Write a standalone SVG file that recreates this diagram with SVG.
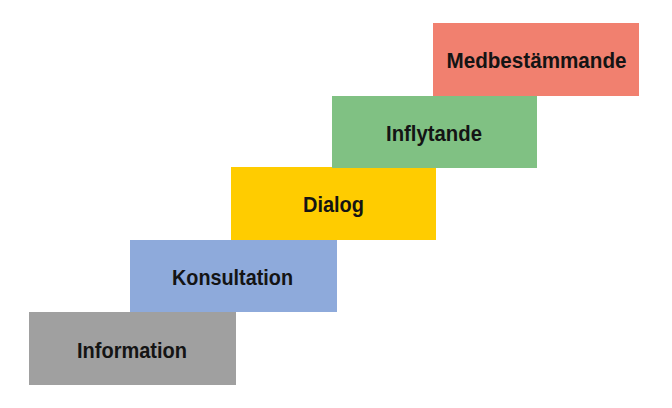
<svg xmlns="http://www.w3.org/2000/svg" width="672" height="408" viewBox="0 0 672 408">
<style>
.lbl{font-family:"Liberation Sans",Arial,sans-serif;font-weight:bold;font-size:22px;fill:#141414;text-anchor:middle}
</style>
<rect width="672" height="408" fill="#ffffff"/>
<g id="information"><rect x="29" y="312" width="207" height="73" fill="#a0a0a0"/><text class="lbl" x="132" y="357.5" textLength="110" lengthAdjust="spacingAndGlyphs">Information</text></g>
<g id="konsultation"><rect x="130" y="240" width="207" height="72" fill="#8eaadb"/><text class="lbl" x="232.5" y="285" textLength="121" lengthAdjust="spacingAndGlyphs">Konsultation</text></g>
<g id="dialog"><rect x="231" y="167" width="205" height="73" fill="#ffcc00"/><text class="lbl" x="333.5" y="212" textLength="61" lengthAdjust="spacingAndGlyphs">Dialog</text></g>
<g id="inflytande"><rect x="332" y="96" width="205" height="72" fill="#80c183"/><text class="lbl" x="434" y="140.5" textLength="96" lengthAdjust="spacingAndGlyphs">Inflytande</text></g>
<g id="medbestammande"><rect x="433" y="23" width="206" height="73" fill="#f1806f"/><text class="lbl" x="536.5" y="68" textLength="180" lengthAdjust="spacingAndGlyphs">Medbestämmande</text></g>
<g id="connectors"></g>
</svg>
